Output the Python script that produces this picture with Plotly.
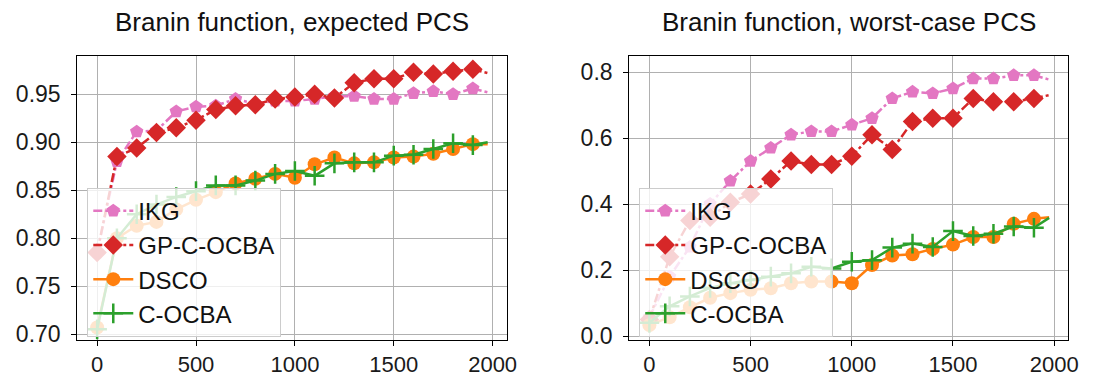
import plotly.graph_objects as go

# ---------------- data ----------------
x_marks = [0, 100, 200, 300, 400, 500, 600, 700, 800, 900, 1000,
           1100, 1200, 1300, 1400, 1500, 1600, 1700, 1800, 1900]
x_last = 1975
series_names = ["IKG", "GP-C-OCBA", "DSCO", "C-OCBA"]

# Left: expected PCS
exp_ikg = [0.785, 0.880, 0.911, 0.912, 0.932, 0.937, 0.938, 0.945, 0.940, 0.943, 0.943,
           0.945, 0.948, 0.948, 0.945, 0.945, 0.951, 0.953, 0.950, 0.956]
exp_gp = [0.785, 0.885, 0.894, 0.910, 0.915, 0.923, 0.934, 0.938, 0.939, 0.945, 0.947,
          0.950, 0.946, 0.962, 0.966, 0.966, 0.973, 0.971, 0.974, 0.976]
exp_dsco = [0.707, 0.800, 0.813, 0.817, 0.830, 0.840, 0.848, 0.857, 0.862, 0.867, 0.863,
            0.877, 0.884, 0.878, 0.879, 0.884, 0.885, 0.888, 0.893, 0.898]
exp_cocba = [0.705, 0.800, 0.825, 0.835, 0.843, 0.849, 0.855, 0.855, 0.860, 0.867, 0.870,
             0.865, 0.878, 0.879, 0.879, 0.886, 0.887, 0.893, 0.899, 0.897]
exp_last = [0.952, 0.972, 0.898, 0.900]

# Right: worst-case PCS
wc_ikg = [0.057, 0.180, 0.270, 0.400, 0.470, 0.530, 0.570, 0.610, 0.620, 0.620, 0.640,
          0.660, 0.720, 0.740, 0.735, 0.750, 0.780, 0.780, 0.790, 0.790]
wc_gp = [0.050, 0.240, 0.350, 0.360, 0.405, 0.430, 0.476, 0.530, 0.520, 0.520, 0.545,
         0.610, 0.565, 0.650, 0.660, 0.660, 0.720, 0.710, 0.710, 0.720]
wc_dsco = [0.033, 0.057, 0.087, 0.116, 0.130, 0.140, 0.145, 0.160, 0.165, 0.165, 0.160,
           0.215, 0.244, 0.248, 0.264, 0.277, 0.300, 0.300, 0.340, 0.355]
wc_cocba = [0.040, 0.090, 0.120, 0.146, 0.160, 0.170, 0.180, 0.190, 0.210, 0.205, 0.225,
            0.230, 0.268, 0.280, 0.270, 0.318, 0.303, 0.310, 0.332, 0.328]
wc_last = [0.777, 0.730, 0.360, 0.358]

titles = ["Branin function, expected PCS", "Branin function, worst-case PCS"]

# ---------------- styles ----------------
colors = ["#e377c2", "#d62728", "#ff7f0e", "#2ca02c"]
dashes = ["dashdot", "dashdot", "solid", "solid"]
symbols = ["pentagon", "diamond", "circle", "cross-thin"]
msizes = [14, 15, 14, 14]
FONT = "Liberation Sans, Arial, sans-serif"

fig = go.Figure()

panels = [
    ([exp_ikg, exp_gp, exp_dsco, exp_cocba], exp_last, "x", "y", "legend"),
    ([wc_ikg, wc_gp, wc_dsco, wc_cocba], wc_last, "x2", "y2", "legend2"),
]

for data, lasts, xa, ya, lg in panels:
    for i, name in enumerate(series_names):
        ys = data[i]
        # tail segment (no marker)
        fig.add_trace(go.Scatter(
            x=[x_marks[-1], x_last], y=[ys[-1], lasts[i]], mode="lines",
            line=dict(color=colors[i], width=2.5, dash=dashes[i]),
            showlegend=False, hoverinfo="skip", xaxis=xa, yaxis=ya))
        mk = dict(symbol=symbols[i], size=msizes[i], color=colors[i])
        if symbols[i] == "cross-thin":
            mk["line"] = dict(color=colors[i], width=2.5)
        else:
            mk["line"] = dict(width=0)
        fig.add_trace(go.Scatter(
            x=x_marks, y=ys, mode="lines+markers", name=name,
            line=dict(color=colors[i], width=2.5, dash=dashes[i]),
            marker=mk, xaxis=xa, yaxis=ya, legend=lg))

W, H = 1109, 379
xd1 = [70 / W, 504 / W]
xd2 = [627 / W, 1070 / W]
yd = [(H - 340) / H, (H - 49) / H]

axis_common = dict(
    showline=True, linecolor="black", linewidth=1.3, mirror=True,
    ticks="outside", ticklen=5, tickwidth=1.2, tickcolor="black",
    showgrid=True, gridcolor="#b0b0b0", gridwidth=1, zeroline=False,
)
yfont = dict(family=FONT, size=23, color="#1a1a1a")
xfont = dict(family=FONT, size=22, color="#1a1a1a")

legend_common = dict(
    bgcolor="rgba(255,255,255,0.8)", bordercolor="#cccccc", borderwidth=1,
    font=dict(family=FONT, size=24, color="#111111"),
    xanchor="left", yanchor="top", tracegroupgap=0, itemwidth=40,
)

fig.update_layout(
    width=W, height=H,
    margin=dict(l=0, r=0, t=0, b=0),
    paper_bgcolor="white", plot_bgcolor="white",
    xaxis=dict(domain=xd1, range=[-100, 2075], tickvals=[0, 500, 1000, 1500, 2000],
               anchor="y", tickfont=xfont, **axis_common),
    yaxis=dict(domain=yd, range=[0.694, 0.990], tickvals=[0.70, 0.75, 0.80, 0.85, 0.90, 0.95],
               tickformat=".2f", anchor="x", ticklabelstandoff=6, tickfont=yfont, **axis_common),
    xaxis2=dict(domain=xd2, range=[-99, 2070], tickvals=[0, 500, 1000, 1500, 2000],
                anchor="y2", tickfont=xfont, **axis_common),
    yaxis2=dict(domain=yd, range=[-0.0118, 0.849], tickvals=[0.0, 0.2, 0.4, 0.6, 0.8],
                tickformat=".1f", anchor="x2", ticklabelstandoff=6, tickfont=yfont, **axis_common),
    legend=dict(x=80 / W, y=(H - 184) / H, **legend_common),
    legend2=dict(x=637 / W, y=(H - 184) / H, **legend_common),
    showlegend=True,
    annotations=[
        dict(text=titles[0], x=(xd1[0] + xd1[1]) / 2, y=1 - 14 / H, xref="paper", yref="paper",
             showarrow=False, xanchor="center", yanchor="middle",
             font=dict(family=FONT, size=26, color="#111111")),
        dict(text=titles[1], x=(xd2[0] + xd2[1]) / 2, y=1 - 14 / H, xref="paper", yref="paper",
             showarrow=False, xanchor="center", yanchor="middle",
             font=dict(family=FONT, size=26, color="#111111")),
    ],
)

fig.write_html("out.html")
